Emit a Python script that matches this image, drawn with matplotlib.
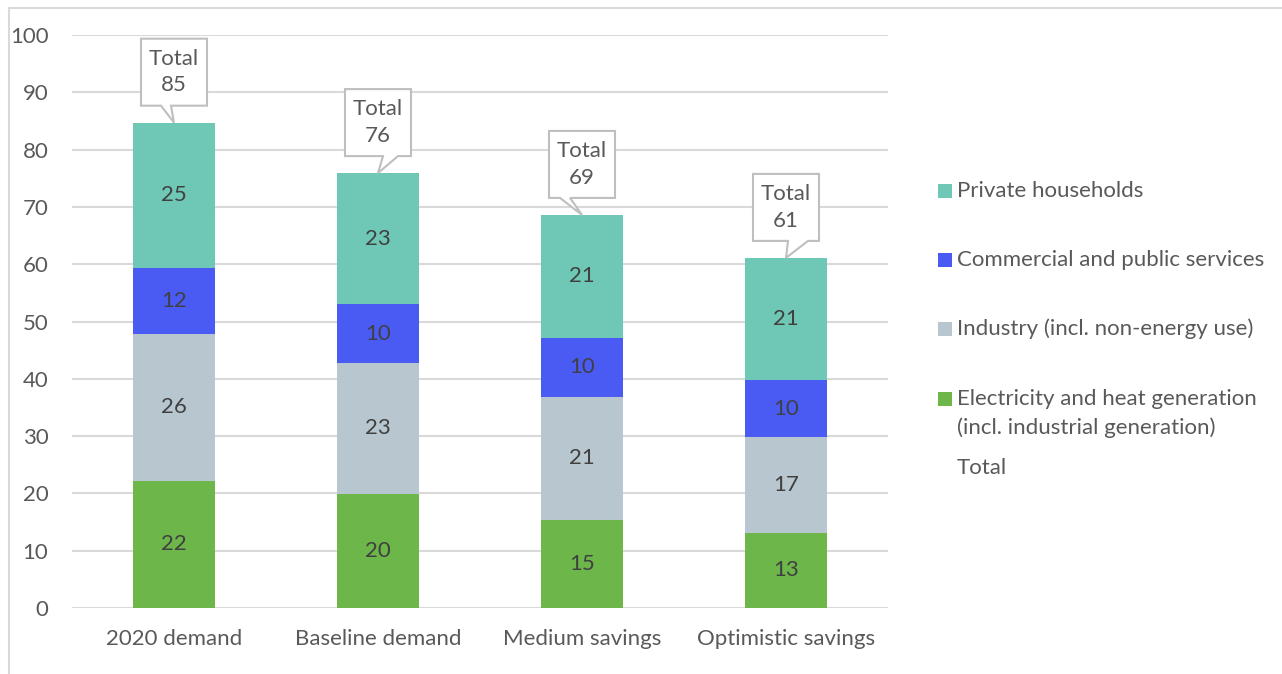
import matplotlib
matplotlib.use("Agg")
import matplotlib.pyplot as plt
from matplotlib.patches import Polygon, Rectangle

plt.rcParams['font.family'] = ['Lato', 'DejaVu Sans']

categories = ["2020 demand", "Baseline demand", "Medium savings", "Optimistic savings"]
electricity = [22.2, 19.9, 15.4, 13.1]
industry = [25.6, 22.9, 21.4, 16.7]
commercial = [11.6, 10.2, 10.4, 10.0]
households = [25.3, 22.9, 21.4, 21.3]

series_names = ["Electricity and heat generation\n(incl. industrial generation)",
                "Industry (incl. non-energy use)",
                "Commercial and public services",
                "Private households"]
series_colors = ["#6db64a", "#b8c7cf", "#4a5bf4", "#6fc8b5"]
text_col = "#595959"
fs = 16

W, H = 1282, 674
fig = plt.figure(figsize=(W / 100, H / 100), dpi=100)
ax = fig.add_axes([72 / W, (H - 608) / H, (888 - 72) / W, (608 - 35) / H])

# outer frame
fig.patches.append(Rectangle((9 / W, -0.1), 1.2, (H - 8) / H + 0.1, transform=fig.transFigure,
                             fill=False, ec="#d9d9d9", lw=1.5))

x = range(len(categories))
bottom = [0.0] * len(categories)
for vals, name, col in zip([electricity, industry, commercial, households], series_names, series_colors):
    ax.bar(x, vals, width=0.4, bottom=bottom, color=col, zorder=2)
    for i, v in enumerate(vals):
        ax.text(i, bottom[i] + v / 2, "%d" % round(v), ha="center", va="center",
                fontsize=fs, color="#404040", zorder=3)
    bottom = [b + v for b, v in zip(bottom, vals)]
totals = bottom

ax.set_xlim(-0.5, len(categories) - 0.5)
ax.set_ylim(0, 100)
ax.set_yticks(range(0, 101, 10))
ax.set_xticks(list(x))
ax.set_xticklabels(categories)
ax.yaxis.grid(True, color="#d9d9d9", lw=1.5, zorder=0)
ax.set_axisbelow(True)
for s in ax.spines.values():
    s.set_visible(False)
ax.tick_params(axis="both", length=0, labelsize=fs, colors=text_col)
ax.tick_params(axis="y", pad=17)
ax.tick_params(axis="x", pad=15)

# total callouts (drawn in pixel coordinates)
fig.canvas.draw()
wedges = [(-13, -3), (5, 20), (-22, -12), (2, 22)]
bw, bh, gap = 66, 67, 17
for i, t in enumerate(totals):
    px, py = ax.transData.transform((i, t))
    py_top = py + gap + bh
    l, r = px - bw / 2, px + bw / 2
    b = py + gap
    w0, w1 = wedges[i]
    pts = [(l, b), (px + w0, b), (px, py), (px + w1, b), (r, b), (r, py_top), (l, py_top)]
    fig.patches.append(Polygon(pts, closed=True, transform=None, fc="white",
                               ec="#bfbfbf", lw=1.5, zorder=4))
    fig.text(px / W, (b + bh / 2) / H, "Total\n%d" % round(t), ha="center", va="center",
             fontsize=fs, color=text_col, linespacing=1.4, zorder=5)

# legend
leg_rows = [("Private households", series_colors[3], 191),
            ("Commercial and public services", series_colors[2], 260),
            ("Industry (incl. non-energy use)", series_colors[1], 329),
            ("Electricity and heat generation", series_colors[0], 399)]
for label, col, yy in leg_rows:
    fig.patches.append(Rectangle((938 / W, (H - yy - 7) / H), 14 / W, 14 / H,
                                 transform=fig.transFigure, fc=col, ec="none"))
    fig.text(957 / W, (H - yy) / H, label, ha="left", va="center", fontsize=fs, color=text_col)
fig.text(957 / W, (H - 428) / H, "(incl. industrial generation)", ha="left", va="center",
         fontsize=fs, color=text_col)
fig.text(957 / W, (H - 468) / H, "Total", ha="left", va="center", fontsize=fs, color=text_col)

fig.savefig("out.png", dpi=100)
